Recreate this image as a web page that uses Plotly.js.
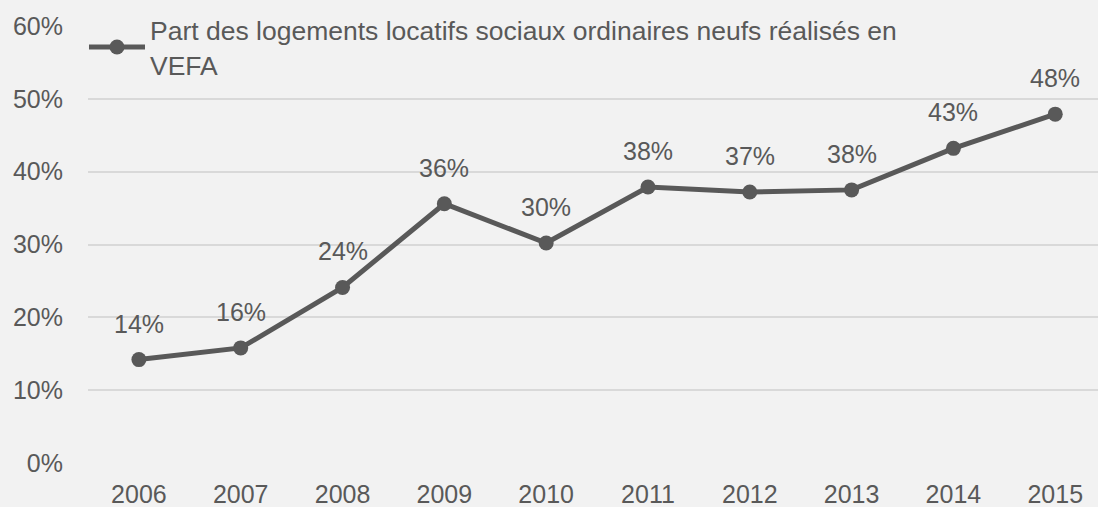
<!DOCTYPE html>
<html>
<head>
<meta charset="utf-8">
<script src="https://cdn.plot.ly/plotly-3.0.1.min.js"></script>
<style>html,body{margin:0;padding:0;background:#f2f2f2;}#chart{width:1098px;height:507px;}</style>
</head>
<body>
<div id="chart"></div>
<script>
const years = ['2006','2007','2008','2009','2010','2011','2012','2013','2014','2015'];
const shares = [14.2, 15.8, 24.1, 35.6, 30.2, 37.9, 37.2, 37.5, 43.2, 47.9];
const seriesName = 'Part des logements locatifs sociaux ordinaires neufs réalisés en<br>VEFA';
const yTicks = [0, 10, 20, 30, 40, 50, 60];

const textColor = '#595959';
const fontFam = 'Liberation Sans, Arial, sans-serif';

const trace = {
  x: years, y: shares, type: 'scatter', mode: 'lines+markers',
  name: seriesName,
  line: {color: '#595959', width: 5},
  marker: {color: '#595959', size: 15},
  hoverinfo: 'skip'
};

// category axis: annotation x uses the category's serial index
const annotations = years.map((yr, i) => ({
  x: i, y: shares[i], xref: 'x', yref: 'y',
  text: shares[i].toFixed(0) + '%', showarrow: false,
  yshift: 36, font: {family: fontFam, size: 25, color: textColor}
}));

const layout = {
  width: 1098, height: 507,
  paper_bgcolor: '#f2f2f2', plot_bgcolor: '#f2f2f2',
  margin: {l: 88, r: 0, t: 26, b: 44, autoexpand: false},
  font: {family: fontFam, size: 25, color: textColor},
  showlegend: true,
  legend: {
    x: 0.0765, xref: 'container', y: 0.988, yref: 'container', yanchor: 'top', xanchor: 'left',
    bgcolor: '#f2f2f2', font: {family: fontFam, size: 26.5, color: textColor},
    itemwidth: 56, tracegroupgap: 0
  },
  xaxis: {
    type: 'category', range: [-0.5, 9.42], showgrid: false, zeroline: false,
    showline: false, ticks: '', tickangle: 0, ticklabelstandoff: 14,
    tickfont: {size: 25, color: textColor}
  },
  yaxis: {
    range: [0, 60], tickvals: yTicks, ticktext: yTicks.map(v => v + '%'),
    showgrid: true, gridcolor: '#d9d9d9', gridwidth: 2, zeroline: false,
    showline: false, ticks: '', ticklabelstandoff: 24, tickfont: {size: 25, color: textColor}
  },
  annotations: annotations
};

Plotly.newPlot('chart', [trace], layout, {displayModeBar: false, staticPlot: true});
</script>
</body>
</html>
